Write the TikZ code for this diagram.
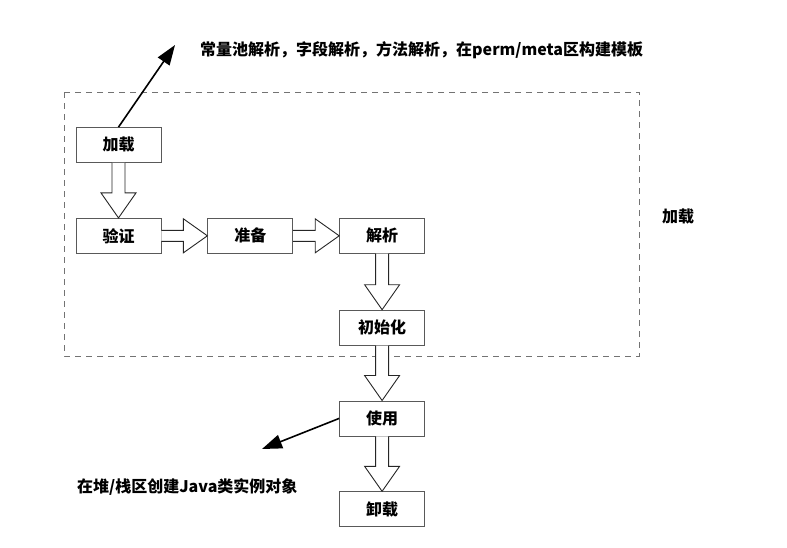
\documentclass[tikz,border=0pt]{standalone}
\usepackage{fontspec}
\setmainfont{Noto Sans CJK SC}
\usepackage{tikz}
\usetikzlibrary{positioning,arrows.meta,calc}

% hollow block arrows between two stages
\newcommand{\fatdown}[2]{%
  \draw[fatarr] let \p1=(#1.south), \p2=(#2.north) in
    (\x1-6.5pt,\y1) -- (\x1-6.5pt,\y2+25pt) -- (\x1-17.5pt,\y2+25pt) -- (\x1,\y2)
    -- (\x1+17.5pt,\y2+25pt) -- (\x1+6.5pt,\y2+25pt) -- (\x1+6.5pt,\y1);}
\newcommand{\fatright}[2]{%
  \draw[fatarr] let \p1=(#1.east), \p2=(#2.west) in
    (\x1,\y1+5.5pt) -- (\x2-24pt,\y1+5.5pt) -- (\x2-24pt,\y1+17pt) -- (\x2,\y1)
    -- (\x2-24pt,\y1-17pt) -- (\x2-24pt,\y1-5.5pt) -- (\x1,\y1-5.5pt);}

\begin{document}
\begin{tikzpicture}[
  x=1pt, y=1pt,
  node distance=55pt and 46pt,
  stage/.style={draw=black!65, line width=0.8pt, minimum width=85pt,
                minimum height=35pt, inner sep=0pt,
                font=\fontsize{16}{19}\selectfont\bfseries},
  note/.style={inner sep=0pt, font=\fontsize{16}{19}\selectfont\bfseries},
  fatarr/.style={draw=black!85, line width=0.9pt, fill=white},
  ptr/.style={line width=1.6pt, -{Triangle[length=20pt,width=14pt]}}
]
\useasboundingbox (0,0) rectangle (787,-547);

% loading phase frame
\draw[black!55, line width=0.8pt, dash pattern=on 6pt off 5pt] (64,-92) rectangle (639,-356);
\node[note] (phase) at (678,-217) {加载};

\node[stage] (jiazai) at (118.5,-145) {加载};
\node[stage] (yanzheng) [below=of jiazai] {验证};
\node[stage] (zhunbei) [right=of yanzheng] {准备};
\node[stage] (jiexi) [right=of zhunbei] {解析};
\node[stage] (chushihua) [below=56pt of jiexi] {初始化};
\node[stage] (shiyong) [below=of chushihua] {使用};
\node[stage] (xiezai) [below=of shiyong] {卸载};

\fatdown{jiazai}{yanzheng}
\fatright{yanzheng}{zhunbei}
\fatright{zhunbei}{jiexi}
\fatdown{jiexi}{chushihua}
\fatdown{chushihua}{shiyong}
\fatdown{shiyong}{xiezai}

% side notes
\node[note, anchor=west] (tplnote) at (200,-50) {常量池解析，字段解析，方法解析，在perm/meta区构建模板};
\node[note, anchor=west] (objnote) at (77,-487) {在堆/栈区创建Java类实例对象};
\coordinate (tplend) at (175,-45);
\coordinate (objend) at (262,-449);
\draw[ptr] (jiazai.north) -- (tplend);
\draw[ptr] (shiyong.west) -- (objend);
\end{tikzpicture}
\end{document}
